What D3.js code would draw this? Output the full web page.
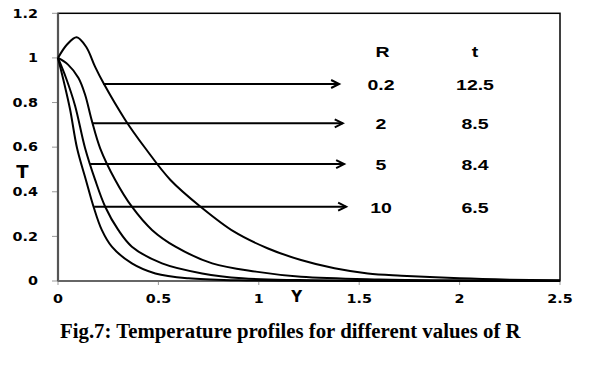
<!DOCTYPE html>
<html>
<head>
<meta charset="utf-8">
<script src="https://cdn.jsdelivr.net/npm/d3@7"></script>
<style>
  body { margin: 0; background: #fff; }
  .tick-label { font-family: "DejaVu Sans", Verdana, sans-serif; font-weight: bold; font-size: 11.5px; fill: #000; }
  .note-label { font-family: "Liberation Sans", Arial, sans-serif; font-weight: bold; font-size: 15px; fill: #000; }
  .curve { fill: none; stroke: #000; stroke-width: 2; }
  .arrow { stroke: #000; stroke-width: 2; fill: none; }
</style>
</head>
<body>
<div id="wrapper"></div>
<script>
// series: Y positions and temperature T for each R
const seriesR = ['0.2', '2', '5', '10'];
const seriesTime = ['12.5', '8.5', '8.4', '6.5'];

const yR02 = [0, 0.045, 0.093, 0.14, 0.185, 0.227, 0.335, 0.435, 0.56, 0.71, 0.877, 1.043, 1.21, 1.377, 1.543, 1.71, 2.0, 2.25, 2.5];
const tR02 = [1, 1.06, 1.093, 1.05, 0.96, 0.886, 0.722, 0.595, 0.453, 0.333, 0.221, 0.147, 0.094, 0.057, 0.034, 0.024, 0.012, 0.006, 0.003];

const yR2 = [0, 0.05, 0.102, 0.135, 0.168, 0.21, 0.285, 0.368, 0.468, 0.585, 0.768, 0.985, 1.21, 1.6, 2.0, 2.5];
const tR2 = [1, 0.97, 0.91, 0.835, 0.72, 0.595, 0.453, 0.333, 0.229, 0.154, 0.079, 0.042, 0.019, 0.007, 0.003, 0.001];

const yR5 = [0, 0.04, 0.085, 0.135, 0.185, 0.235, 0.3, 0.368, 0.518, 0.718, 0.918, 1.2, 1.6, 2.5];
const tR5 = [1, 0.91, 0.786, 0.595, 0.453, 0.333, 0.229, 0.154, 0.079, 0.034, 0.012, 0.004, 0.001, 0];

const yR10 = [0, 0.03, 0.06, 0.095, 0.139, 0.177, 0.218, 0.268, 0.368, 0.485, 0.65, 0.9, 1.2, 2.5];
const tR10 = [1, 0.89, 0.77, 0.595, 0.453, 0.333, 0.229, 0.154, 0.079, 0.034, 0.012, 0.003, 0.001, 0];

// arrows: start point on each curve (Y, T) and end Y
const arrowStartY = [0.225, 0.172, 0.16, 0.18];
const arrowT = [0.883, 0.707, 0.524, 0.333];
const arrowEndY = [1.4, 1.418, 1.425, 1.435];

const xTicks = [0, 0.5, 1, 1.5, 2, 2.5];
const yTicks = [0, 0.2, 0.4, 0.6, 0.8, 1, 1.2];

const seriesY = [yR02, yR2, yR5, yR10];
const seriesT = [tR02, tR2, tR5, tR10];

const width = 595;
const height = 367;
const plot = { left: 58, right: 560, top: 13.3, bottom: 281 };

const svg = d3.select('#wrapper')
  .append('svg')
  .attr('width', width)
  .attr('height', height);

const xScale = d3.scaleLinear().domain([0, 2.5]).range([plot.left, plot.right]);
const yScale = d3.scaleLinear().domain([0, 1.2]).range([plot.bottom, plot.top]);

// stretched text helper (the figure's text is wider than the fonts)
const addText = (x, y, str, cls, anchor, sx) => svg.append('text')
  .attr('class', cls)
  .attr('transform', `translate(${x},${y}) scale(${sx},1)`)
  .attr('text-anchor', anchor)
  .text(str);

// frame
svg.append('rect')
  .attr('x', plot.left)
  .attr('y', plot.top)
  .attr('width', plot.right - plot.left)
  .attr('height', plot.bottom - plot.top)
  .attr('fill', 'none')
  .attr('stroke', '#000')
  .attr('stroke-width', 1.5);

// ticks
svg.append('g').selectAll('line')
  .data(yTicks)
  .join('line')
  .attr('x1', plot.left - 6)
  .attr('x2', plot.left)
  .attr('y1', d => yScale(d))
  .attr('y2', d => yScale(d))
  .attr('stroke', '#999')
  .attr('stroke-width', 1);

svg.append('g').selectAll('line')
  .data(xTicks)
  .join('line')
  .attr('x1', d => xScale(d))
  .attr('x2', d => xScale(d))
  .attr('y1', plot.bottom)
  .attr('y2', plot.bottom + 4)
  .attr('stroke', '#999')
  .attr('stroke-width', 1);

// axis lines
svg.append('line')
  .attr('x1', plot.left).attr('x2', plot.left)
  .attr('y1', plot.top).attr('y2', plot.bottom)
  .attr('stroke', '#555').attr('stroke-width', 2.2);
svg.append('line')
  .attr('x1', plot.left).attr('x2', plot.right)
  .attr('y1', plot.bottom).attr('y2', plot.bottom)
  .attr('stroke', '#666').attr('stroke-width', 2.2);

yTicks.forEach(d => addText(38, yScale(d) + 4.2, String(d), 'tick-label', 'end', 1.25));
xTicks.forEach(d => addText(xScale(d), 303.3, String(d), 'tick-label', 'middle', 1.25));

// axis titles
svg.append('text')
  .attr('x', 22.5).attr('y', 178.3)
  .attr('text-anchor', 'middle')
  .style('font-family', '"DejaVu Sans", Verdana, sans-serif')
  .style('font-weight', 'bold')
  .style('font-size', '18px')
  .text('T');
svg.append('text')
  .attr('x', 296.7).attr('y', 302.3)
  .attr('text-anchor', 'middle')
  .style('font-family', '"DejaVu Sans", Verdana, sans-serif')
  .style('font-weight', 'bold')
  .style('font-size', '15px')
  .text('Y');

// curves
const lineGenerator = d3.line()
  .x(d => xScale(d[0]))
  .y(d => yScale(d[1]))
  .curve(d3.curveCatmullRom.alpha(0.5));

seriesY.forEach((ys, i) => {
  const points = ys.map((y, j) => [y, seriesT[i][j]]);
  svg.append('path')
    .attr('class', 'curve')
    .attr('d', lineGenerator(points));
});

// arrows and labels
addText(382.5, 56.7, 'R', 'note-label', 'middle', 1.3);
addText(475, 56.7, 't', 'note-label', 'middle', 1.3);

seriesR.forEach((r, i) => {
  const y = yScale(arrowT[i]);
  const x1 = xScale(arrowStartY[i]);
  const x2 = xScale(arrowEndY[i]);
  svg.append('line')
    .attr('class', 'arrow')
    .attr('x1', x1).attr('x2', x2)
    .attr('y1', y).attr('y2', y);
  svg.append('path')
    .attr('class', 'arrow')
    .attr('d', `M${x2 - 8},${y - 4}L${x2},${y}L${x2 - 8},${y + 4}`);
  addText(381, y + 6, r, 'note-label', 'middle', 1.3);
  addText(475, y + 6, seriesTime[i], 'note-label', 'middle', 1.3);
});

// caption
svg.append('text')
  .attr('x', 60)
  .attr('y', 338.3)
  .style('font-family', '"Liberation Serif", "Times New Roman", serif')
  .style('font-weight', 'bold')
  .style('font-size', '20.8px')
  .text('Fig.7: Temperature profiles for different values of R');
</script>
</body>
</html>
